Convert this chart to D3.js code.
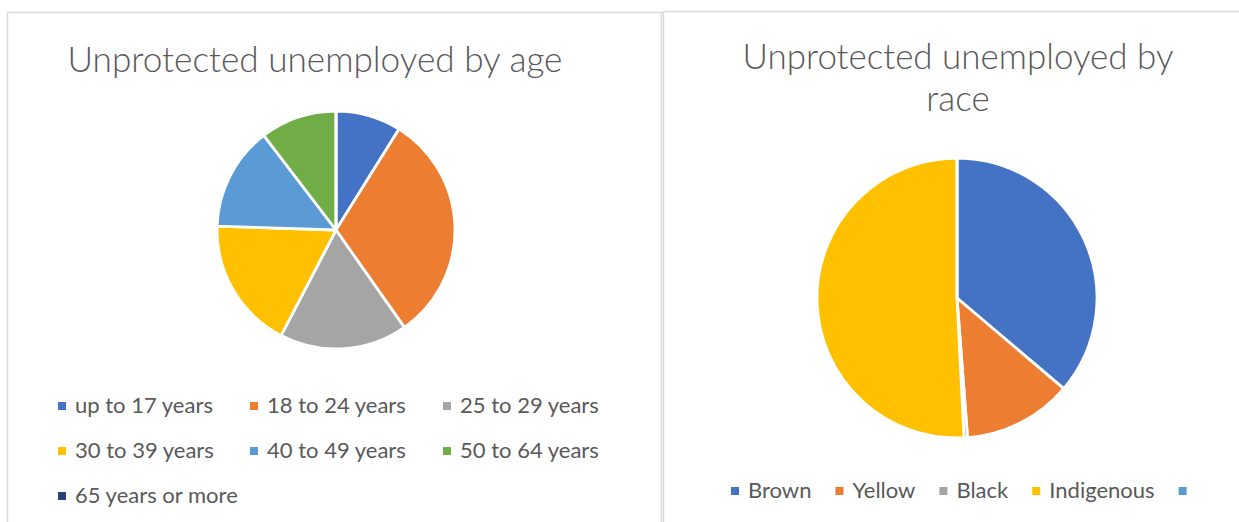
<!DOCTYPE html>
<html>
<head>
<meta charset="utf-8">
<script src="https://cdn.jsdelivr.net/npm/d3@7"></script>
<style>
  html, body { margin: 0; padding: 0; background: #ffffff; }
  svg { display: block; }
  text { font-family: Lato, "Open Sans", "Noto Sans", sans-serif; fill: #595959; }
</style>
</head>
<body>
<svg id="chart" width="1239" height="522"></svg>
<script>
// Age breakdown (share of unprotected unemployed, %)
const ageCategories = ["up to 17 years", "18 to 24 years", "25 to 29 years",
                       "30 to 39 years", "40 to 49 years", "50 to 64 years",
                       "65 years or more"];
const ageValues = [8.9, 31.4, 17.4, 17.9, 14.1, 10.4, 0];

// Race breakdown (share of unprotected unemployed, %)
const raceCategories = ["Brown", "Yellow", "Black", "Indigenous", ""];
const raceValues = [36.2, 12.6, 0.4, 50.8, 0];

const officePalette = ["#4472C4", "#ED7D31", "#A5A5A5", "#FFC000",
                       "#5B9BD5", "#70AD47", "#264478"];

const svg = d3.select("#chart");

// panel frames
svg.append("path")
  .attr("d", "M7.5,530 V12.5 H661.5 V530")
  .attr("fill", "none").attr("stroke", "#d9d9d9").attr("stroke-width", 1.5);
svg.append("path")
  .attr("d", "M663.5,530 V11.5 H1250")
  .attr("fill", "none").attr("stroke", "#d9d9d9").attr("stroke-width", 1.5);

// shrink/grow a text node's font size so it spans the wanted width
function fitText(sel, width) {
  const node = sel.node();
  const size = parseFloat(sel.attr("font-size"));
  const w = node.getComputedTextLength();
  sel.attr("font-size", (size * width / w).toFixed(2));
  return size * width / w;
}

function drawPie(cx, cy, r, categories, values) {
  const color = d3.scaleOrdinal().domain(categories.map((c, i) => i)).range(officePalette);
  const pie = d3.pie().sort(null).value(d => d.v);
  const arc = d3.arc().innerRadius(0).outerRadius(r);
  const data = values.map((v, i) => ({ v, i }));
  svg.append("g")
    .attr("transform", `translate(${cx},${cy})`)
    .selectAll("path")
    .data(pie(data))
    .join("path")
    .attr("d", arc)
    .attr("fill", d => color(d.data.i))
    .attr("stroke", "#ffffff")
    .attr("stroke-width", 2.8)
    .attr("stroke-linejoin", "round");
  return color;
}

// ---- left chart: by age ----
const t1 = svg.append("text")
  .attr("x", 315).attr("y", 72)
  .attr("text-anchor", "middle")
  .attr("font-size", 32).attr("font-weight", 300)
  .text("Unprotected unemployed by age");
fitText(t1, 495);

const ageColor = drawPie(336, 230, 119, ageCategories, ageValues);

// legend grid: 3 columns
const ageCols = [58, 250, 443];
const ageRows = [406, 451, 496];
let legendSize = null;
ageCategories.forEach((c, i) => {
  const col = i % 3, row = Math.floor(i / 3);
  const g = svg.append("g");
  g.append("rect")
    .attr("x", ageCols[col]).attr("y", ageRows[row] - 4)
    .attr("width", 8).attr("height", 8)
    .attr("fill", ageColor(i));
  const t = g.append("text")
    .attr("x", ageCols[col] + 17).attr("y", ageRows[row] + 7)
    .attr("font-size", legendSize || 20)
    .text(c);
  if (legendSize === null) legendSize = fitText(t, 138);
});

// ---- right chart: by race ----
const t2 = svg.append("text")
  .attr("x", 958).attr("y", 69)
  .attr("text-anchor", "middle")
  .attr("font-size", 32).attr("font-weight", 300)
  .text("Unprotected unemployed by");
const titleSize = fitText(t2, 431);
svg.append("text")
  .attr("x", 958).attr("y", 111)
  .attr("text-anchor", "middle")
  .attr("font-size", titleSize).attr("font-weight", 300)
  .text("race");

const raceColor = drawPie(957, 298, 140, raceCategories, raceValues);

// single-row legend, items laid out one after another
let lx = 731;
const ly = 491;
raceCategories.forEach((c, i) => {
  svg.append("rect")
    .attr("x", lx).attr("y", ly - 4)
    .attr("width", 8).attr("height", 8)
    .attr("fill", raceColor(i));
  const t = svg.append("text")
    .attr("x", lx + 17).attr("y", ly + 7)
    .attr("font-size", legendSize)
    .text(c);
  lx += 17 + t.node().getComputedTextLength() + 24;
});
</script>
</body>
</html>
